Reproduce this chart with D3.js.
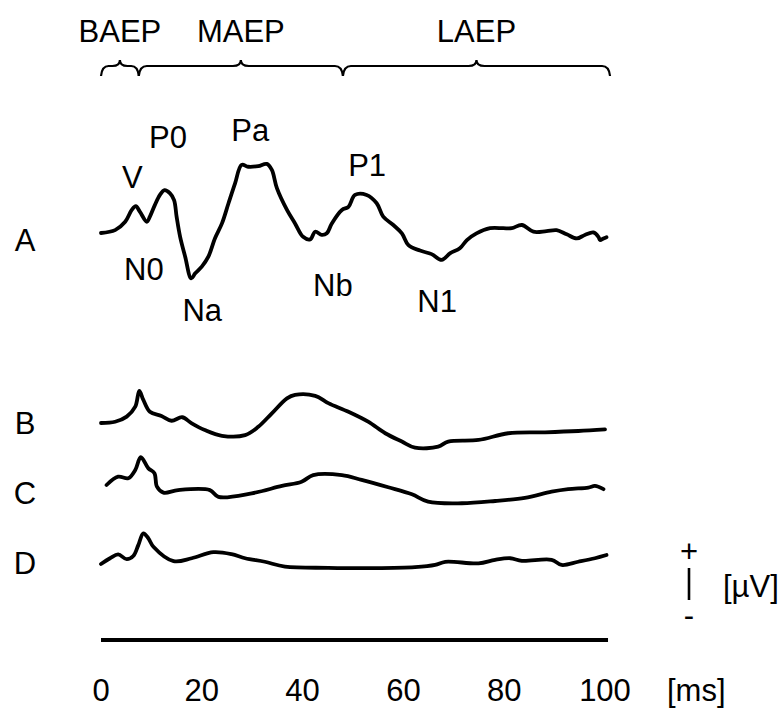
<!DOCTYPE html>
<html>
<head>
<meta charset="utf-8">
<script src="https://cdn.jsdelivr.net/npm/d3@7"></script>
<style>
  html, body { margin: 0; padding: 0; background: #fff; }
  svg { display: block; }
  text { font-family: "Liberation Sans", Arial, sans-serif; fill: #000; }
</style>
</head>
<body>
<svg id="chart" width="783" height="709"></svg>
<script>
// ---- data: auditory evoked potentials, latency [ms] vs amplitude [µV] ----
const traceNames = ["A", "B", "C", "D"];

const waveA = [
  [0, 0], [2.8, 0.09], [4.8, 0.35], [6.1, 0.72], [6.9, 0.84], [7.7, 0.67],
  [9.1, 0.35], [9.7, 0.51], [10.7, 0.88], [11.7, 1.19], [12.6, 1.34], [13.7, 1.24],
  [14.5, 1.03], [15.0, 0.51], [15.7, -0.12], [16.7, -0.74], [17.9, -1.42], [18.7, -1.26],
  [20.0, -1.05], [21.3, -0.74], [22.6, -0.17], [24.0, 0.30], [25.3, 0.93], [26.6, 1.55],
  [27.9, 2.13], [29.2, 2.07], [31.2, 2.09], [32.9, 2.16], [33.9, 1.97], [34.9, 1.40],
  [36.9, 0.72], [38.5, 0.30], [40.1, -0.12], [41.5, -0.20], [42.5, 0.04], [43.8, -0.06],
  [44.8, -0.01], [45.8, 0.30], [47.8, 0.72], [49.1, 0.82], [50.4, 1.19], [52.7, 1.19],
  [54.7, 0.93], [56.0, 0.51], [58.0, 0.25], [59.7, -0.01], [61.0, -0.38], [63.3, -0.55],
  [65.6, -0.66], [67.6, -0.84], [69.3, -0.63], [71.2, -0.48], [72.6, -0.22], [74.5, -0.01],
  [77.2, 0.15], [79.8, 0.15], [81.5, 0.15], [83.5, 0.25], [85.8, 0.04], [88.4, 0.06],
  [90.4, 0.09], [92.4, -0.04], [94.4, -0.17], [96.0, -0.06], [97.7, 0.02], [98.7, -0.12],
  [99.0, -0.22], [99.7, -0.17], [100.3, -0.13]
];

const waveB = [
  [0, 0], [2.8, 0.04], [5.1, 0.20], [6.8, 0.51], [7.6, 1.00], [8.4, 0.72],
  [9.7, 0.35], [12.0, 0.22], [14.0, 0.07], [16.1, 0.18], [18.0, -0.01], [20.6, -0.22],
  [24.0, -0.40], [28.6, -0.38], [31.2, -0.12], [33.9, 0.30], [36.9, 0.77], [38.5, 0.88],
  [42.5, 0.85], [45.1, 0.62], [49.1, 0.35], [53.0, 0.04], [56.4, -0.32], [59.7, -0.58],
  [62.3, -0.77], [66.9, -0.74], [68.9, -0.58], [74.9, -0.53], [80.8, -0.32], [88.1, -0.29],
  [94.7, -0.25], [100.0, -0.20]
];

const waveC = [
  [1.1, 0], [3.4, 0.26], [5.4, 0.21], [6.8, 0.47], [7.9, 0.87], [9.4, 0.52],
  [10.6, 0.37], [11.1, -0.05], [12.4, -0.24], [15.3, -0.16], [21.6, -0.16], [23.3, -0.37],
  [29.9, -0.26], [35.9, -0.03], [39.8, 0.10], [42.1, 0.31], [47.8, 0.31], [51.7, 0.16],
  [57.0, -0.07], [61.7, -0.29], [64.9, -0.52], [71.6, -0.57], [78.2, -0.50], [84.1, -0.40],
  [89.4, -0.21], [92.7, -0.13], [96.7, -0.08], [98.0, -0.03], [99.7, -0.13]
];

const waveD = [
  [0, 0], [1.8, 0.18], [3.4, 0.30], [5.1, 0.15], [6.4, 0.25], [7.4, 0.59],
  [8.4, 0.96], [9.4, 0.80], [10.4, 0.54], [14.4, 0.09], [18.0, 0.18], [22.3, 0.37],
  [25.9, 0.31], [28.6, 0.18], [32.5, 0.07], [36.5, -0.08], [45.1, -0.12], [53.7, -0.13],
  [62.3, -0.10], [66.3, -0.03], [68.3, 0.07], [74.9, 0.02], [78.2, 0.13], [81.2, 0.18],
  [83.5, 0.10], [89.4, 0.13], [91.4, -0.03], [94.7, 0.07], [98.0, 0.18], [100.3, 0.28]
];

const waves = [waveA, waveB, waveC, waveD];

// latency ranges of the response groups [ms]
const groupNames = ["BAEP", "MAEP", "LAEP"];
const groupEdges = [0, 7.5, 48, 101];

// component labels on trace A, with the latency they sit at
const peakNames   = ["V", "P0", "Pa", "P1", "N0", "Na", "Nb", "N1"];
const peakLatency = [6.2, 13.3, 29.6, 52.8, 8.5, 20.1, 46.0, 66.7];

const timeTicks = [0, 20, 40, 60, 80, 100];
const timeUnit = "[ms]";
const ampUnit = "[µV]";
const scaleBarUV = 1;

// ---- layout ----
const svg = d3.select("#chart");
const FONT = 31;

const x = d3.scaleLinear().domain([0, 100]).range([101, 605]);
// amplitude in µV -> vertical pixel offset (positive up)
const amp = d3.scaleLinear().domain([0, 1]).range([0, -32]);

const rowBase = { A: 233, B: 423, C: 485, D: 564 };
const rowLabelBase = { A: 251, B: 434, C: 504, D: 574 };
// vertical placement of component labels relative to trace A baseline (µV)
const peakLevel = [1.41, 2.66, 2.88, 1.78, -1.47, -2.75, -1.97, -2.47];

// traces
const line = d3.line()
  .x(d => x(d[0]))
  .y(d => amp(d[1]))
  .curve(d3.curveCatmullRom.alpha(0.5));

traceNames.forEach((name, i) => {
  svg.append("path")
    .datum(waves[i])
    .attr("transform", `translate(0,${rowBase[name]})`)
    .attr("d", line)
    .attr("fill", "none")
    .attr("stroke", "#000")
    .attr("stroke-width", 3.8)
    .attr("stroke-linejoin", "round")
    .attr("stroke-linecap", "round");

  svg.append("text")
    .attr("x", 25)
    .attr("y", rowLabelBase[name])
    .attr("text-anchor", "middle")
    .attr("font-size", FONT)
    .text(name);
});

// component labels
peakNames.forEach((p, i) => {
  svg.append("text")
    .attr("x", x(peakLatency[i]))
    .attr("y", rowBase.A + amp(peakLevel[i]))
    .attr("text-anchor", "middle")
    .attr("font-size", FONT)
    .text(p);
});

// curly braces over the latency groups
function bracePath(x1, x2, y) {
  const xm = (x1 + x2) / 2;
  const r = Math.min(8, (x2 - x1) / 5);
  return `M${x1},${y + 10} Q${x1 + 1},${y} ${x1 + r},${y} L${xm - r},${y} ` +
         `Q${xm},${y} ${xm},${y - 6} Q${xm},${y} ${xm + r},${y} ` +
         `L${x2 - r},${y} Q${x2 - 1},${y} ${x2},${y + 10}`;
}

groupNames.forEach((g, i) => {
  const x1 = x(groupEdges[i]), x2 = x(groupEdges[i + 1]);
  svg.append("path")
    .attr("d", bracePath(x1, x2, 66))
    .attr("fill", "none")
    .attr("stroke", "#000")
    .attr("stroke-width", 2.2);
  svg.append("text")
    .attr("x", (x1 + x2) / 2)
    .attr("y", 42)
    .attr("text-anchor", "middle")
    .attr("font-size", FONT)
    .text(g);
});

// time axis bar and tick labels
svg.append("line")
  .attr("x1", x(0)).attr("x2", x(100.6))
  .attr("y1", 640).attr("y2", 640)
  .attr("stroke", "#000")
  .attr("stroke-width", 4);

svg.selectAll(".tick-label")
  .data(timeTicks)
  .enter().append("text")
  .attr("class", "tick-label")
  .attr("x", d => x(d))
  .attr("y", 701)
  .attr("text-anchor", "middle")
  .attr("font-size", FONT)
  .text(d => d);

svg.append("text")
  .attr("x", 667)
  .attr("y", 701)
  .attr("font-size", FONT)
  .text(timeUnit);

// amplitude scale bar
const barX = 689, barTop = 568;
svg.append("line")
  .attr("x1", barX).attr("x2", barX)
  .attr("y1", barTop).attr("y2", barTop - amp(scaleBarUV))
  .attr("stroke", "#000")
  .attr("stroke-width", 2.6);
svg.append("text")
  .attr("x", barX).attr("y", 562)
  .attr("text-anchor", "middle")
  .attr("font-size", FONT)
  .text("+");
svg.append("text")
  .attr("x", barX).attr("y", 626)
  .attr("text-anchor", "middle")
  .attr("font-size", FONT)
  .text("-");
svg.append("text")
  .attr("x", 723).attr("y", 597)
  .attr("font-size", FONT)
  .text(ampUnit);
</script>
</body>
</html>
